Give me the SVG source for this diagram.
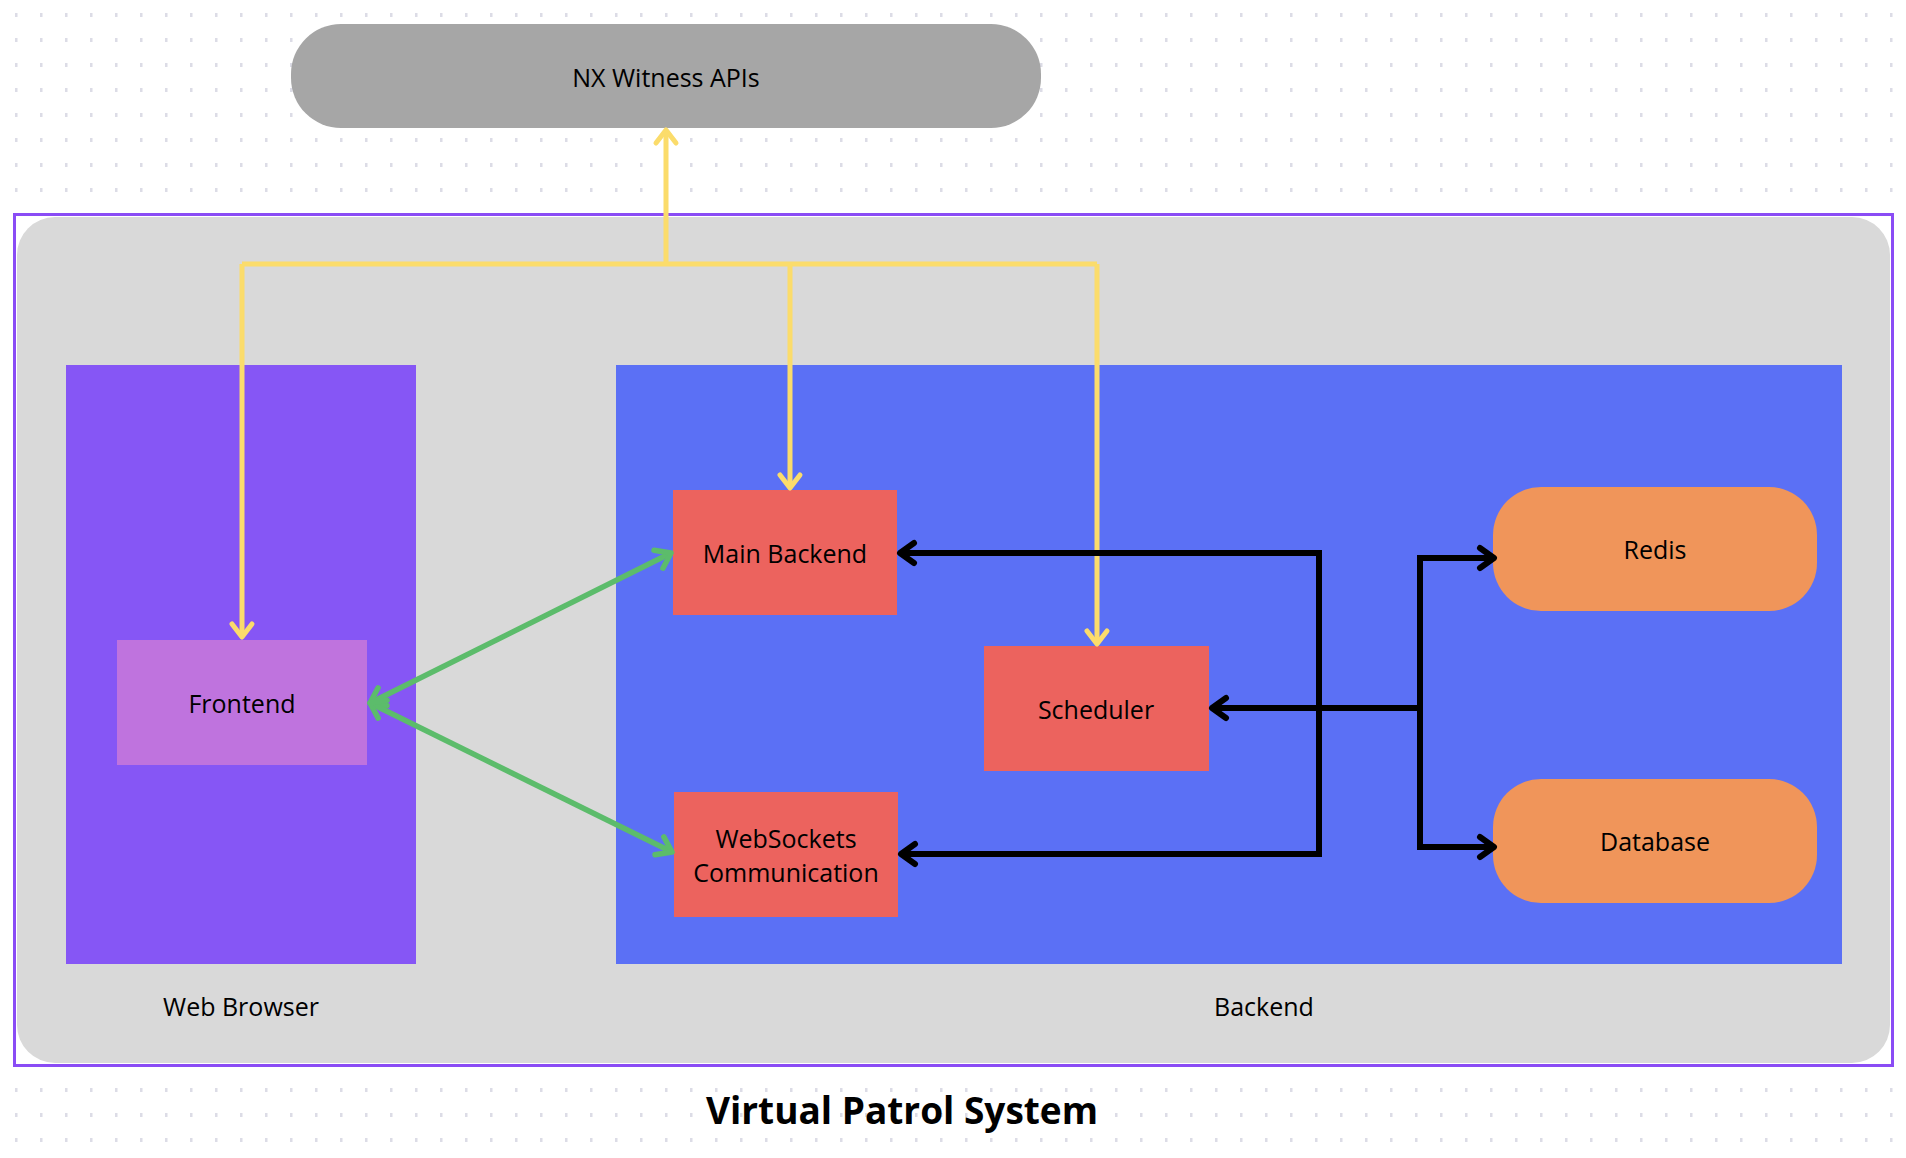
<svg xmlns="http://www.w3.org/2000/svg" width="1906" height="1158" viewBox="0 0 1906 1158">
<defs>
<pattern id="dots" x="15" y="13" width="25" height="25" patternUnits="userSpaceOnUse">
<rect x="0" y="0" width="2.5" height="4" fill="#dcdce6"/>
</pattern>
<marker id="ay" viewBox="-20 -15 25 30" markerWidth="25" markerHeight="30" refX="0" refY="0" orient="auto-start-reverse" markerUnits="userSpaceOnUse">
<path d="M-13,-10 L0,0 L-13,10" fill="none" stroke="#fbdc6b" stroke-width="5" stroke-linecap="round" stroke-linejoin="round"/>
</marker>
<marker id="ag" viewBox="-20 -15 25 30" markerWidth="25" markerHeight="30" refX="0" refY="0" orient="auto-start-reverse" markerUnits="userSpaceOnUse">
<path d="M-14,-10 L0,0 L-14,10" fill="none" stroke="#5cbc6b" stroke-width="5.5" stroke-linecap="round" stroke-linejoin="round"/>
</marker>
<marker id="ab" viewBox="-20 -15 25 30" markerWidth="25" markerHeight="30" refX="0" refY="0" orient="auto-start-reverse" markerUnits="userSpaceOnUse">
<path d="M-14,-10 L0,0 L-14,10" fill="none" stroke="#000" stroke-width="6" stroke-linecap="round" stroke-linejoin="round"/>
</marker>
</defs>
<style>
text{font-family:"Open Sans","Noto Sans","Liberation Sans",sans-serif;fill:#000;text-anchor:middle;dominant-baseline:central}
.lbl{font-size:25px}
.title{font-size:37px;font-weight:bold}
.yl{fill:none;stroke:#fbdc6b;stroke-width:5}
.gl{fill:none;stroke:#5cbc6b;stroke-width:5.5}
.bl{fill:none;stroke:#000;stroke-width:6}
.svc{fill:#ec635e}
.store{fill:#f0955a}
</style>
<rect width="1906" height="1158" fill="#ffffff"/>
<rect width="1906" height="1158" fill="url(#dots)"/>

<g id="system">
<rect x="14.5" y="214.5" width="1878" height="851" fill="#ffffff" stroke="#8a4cf5" stroke-width="3"/>
<rect x="17" y="217" width="1873" height="846" rx="38" fill="#d9d9d9"/>
</g>

<g id="nx-witness">
<rect x="291" y="24" width="750" height="104" rx="50" fill="#a6a6a6"/>
<text class="lbl" x="666" y="77">NX Witness APIs</text>
</g>

<g id="web-browser">
<rect x="66" y="365" width="350" height="599" fill="#8656f5"/>
<text class="lbl" x="241" y="1006">Web Browser</text>
</g>

<g id="backend">
<rect x="616" y="365" width="1226" height="599" fill="#5b70f5"/>
<text class="lbl" x="1264" y="1006">Backend</text>
</g>

<g id="frontend">
<rect x="117" y="640" width="250" height="125" fill="#bf73de"/>
<text class="lbl" x="242" y="703">Frontend</text>
</g>

<g id="main-backend">
<rect class="svc" x="673" y="490" width="224" height="125"/>
<text class="lbl" x="785" y="553">Main Backend</text>
</g>

<g id="scheduler">
<rect class="svc" x="984" y="646" width="225" height="125"/>
<text class="lbl" x="1096" y="709">Scheduler</text>
</g>

<g id="websockets">
<rect class="svc" x="674" y="792" width="224" height="125"/>
<text class="lbl" x="786" y="838">WebSockets</text>
<text class="lbl" x="786" y="872">Communication</text>
</g>

<g id="redis">
<rect class="store" x="1493" y="487" width="324" height="124" rx="48"/>
<text class="lbl" x="1655" y="549">Redis</text>
</g>

<g id="database">
<rect class="store" x="1493" y="779" width="324" height="124" rx="48"/>
<text class="lbl" x="1655" y="841">Database</text>
</g>

<g id="connectors">
<path class="yl" d="M242,264 H1097"/>
<path class="yl" d="M666,264 V130" marker-end="url(#ay)"/>
<path class="yl" d="M242,264 V637" marker-end="url(#ay)"/>
<path class="yl" d="M790,264 V488" marker-end="url(#ay)"/>
<path class="yl" d="M1097,264 V644" marker-end="url(#ay)"/>

<path class="gl" d="M370,703 L671,553" marker-start="url(#ag)" marker-end="url(#ag)"/>
<path class="gl" d="M370,703 L672,852" marker-start="url(#ag)" marker-end="url(#ag)"/>

<path class="bl" d="M1319,553 H900" marker-end="url(#ab)"/>
<path class="bl" d="M1319,550 V857"/>
<path class="bl" d="M1319,854 H901" marker-end="url(#ab)"/>
<path class="bl" d="M1420,708 H1212" marker-end="url(#ab)"/>
<path class="bl" d="M1420,555 V850"/>
<path class="bl" d="M1417,558 H1494" marker-end="url(#ab)"/>
<path class="bl" d="M1417,847 H1494" marker-end="url(#ab)"/>
</g>

<text class="title" x="902" y="1109">Virtual Patrol System</text>
</svg>
